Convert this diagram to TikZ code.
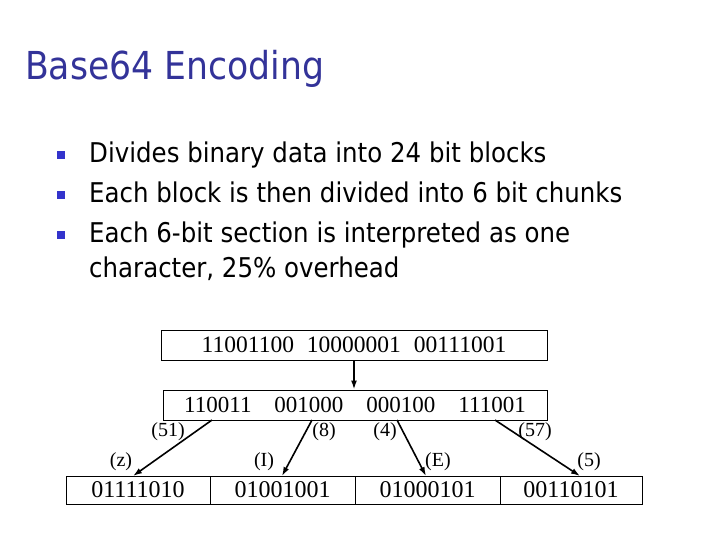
\documentclass[tikz,border=0pt]{standalone}
\usepackage{fontspec}
\setmainfont{Liberation Serif}
\newfontfamily\tahoma[FakeStretch=0.9]{DejaVu Sans}
\usetikzlibrary{arrows.meta}
\definecolor{titleblue}{RGB}{51,51,153}
\definecolor{bulletblue}{RGB}{51,51,204}
\begin{document}
\begin{tikzpicture}[x=1pt,y=-1pt,
  titletext/.style={anchor=base west,inner sep=0pt,font=\tahoma\fontsize{38.5}{42}\selectfont,text=titleblue},
  bullettext/.style={anchor=base west,inner sep=0pt,font=\tahoma\fontsize{27.2}{30}\selectfont},
  bulletsq/.style={fill=bulletblue,minimum size=8pt,inner sep=0pt},
  bitbox/.style={draw,line width=1pt,inner sep=0pt,font=\fontsize{24}{26}\selectfont},
  widebox/.style={bitbox,font=\fontsize{23}{26}\selectfont},
  lbl/.style={inner sep=0pt,font=\fontsize{20}{22}\selectfont},
  arr/.style={line width=1.6pt,-{Latex[length=9pt,width=6pt]}}]
\useasboundingbox (0,0) rectangle (720,540);
\node[titletext] (title) at (25,80) {Base64 Encoding};
\node[bulletsq] (b1) at (61,155) {};
\node[bulletsq] (b2) at (61,195) {};
\node[bulletsq] (b3) at (61,235) {};
\node[bullettext] (t1) at (89,163) {Divides binary data into 24 bit blocks};
\node[bullettext] (t2) at (89,203) {Each block is then divided into 6 bit chunks};
\node[bullettext] (t3) at (89,243) {Each 6-bit section is interpreted as one};
\node[bullettext] (t4) at (89,277) {character, 25\% overhead};
% boxes
\node[bitbox,font=\fontsize{23.5}{26}\selectfont,minimum width=386pt,minimum height=30pt] (top) at (354,345) {11001100\hspace{13pt}10000001\hspace{13pt}00111001};
\node[widebox,minimum width=384pt,minimum height=30pt] (mid) at (355,405) {110011\hspace{23pt}001000\hspace{23pt}000100\hspace{23pt}111001};
\node[bitbox,minimum width=144pt,minimum height=28pt] (c1) at (138,490) {01111010};
\node[bitbox,minimum width=145pt,minimum height=28pt] (c2) at (282.5,490) {01001001};
\node[bitbox,minimum width=145pt,minimum height=28pt] (c3) at (427.5,490) {01000101};
\node[bitbox,minimum width=142pt,minimum height=28pt] (c4) at (571,490) {00110101};
% arrows
\draw[arr] (top.south) -- (top.south |- mid.north);
\coordinate (s1) at (212,420);
\coordinate (s2) at (312,420);
\coordinate (s3) at (397,420);
\coordinate (s4) at (495,420);
\coordinate (e1) at (133,476);
\coordinate (e2) at (282,476);
\coordinate (e3) at (426,476);
\coordinate (e4) at (580,476);
\draw[arr] (s1) -- (e1);
\draw[arr] (s2) -- (e2);
\draw[arr] (s3) -- (e3);
\draw[arr] (s4) -- (e4);
% labels
\node[lbl] (l51) at (168,432) {(51)};
\node[lbl] (l8) at (324,432) {(8)};
\node[lbl] (l4) at (385,432) {(4)};
\node[lbl] (l57) at (535,432) {(57)};
\node[lbl] (lz) at (121,462) {(z)};
\node[lbl] (lI) at (264,462) {(I)};
\node[lbl] (lE) at (438,462) {(E)};
\node[lbl] (l5) at (589,462) {(5)};
\end{tikzpicture}
\end{document}
